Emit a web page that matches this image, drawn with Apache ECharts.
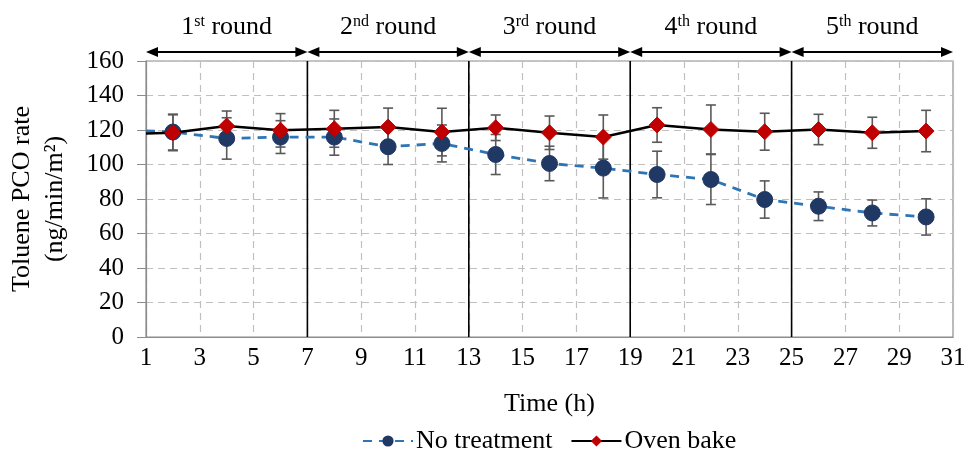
<!DOCTYPE html>
<html>
<head>
<meta charset="utf-8">
<script src="https://cdn.jsdelivr.net/npm/echarts@6/dist/echarts.min.js"></script>
<style>html,body{margin:0;padding:0;background:#fff}#c{width:966px;height:451px}</style>
</head>
<body>
<div id="c"></div>
<script>
// ---- data ----
const hours = [2, 4, 6, 8, 10, 12, 14, 16, 18, 20, 22, 24, 26, 28, 30];
const noTreatment    = [118.8, 115.1, 115.9, 115.9, 110.3, 112.2, 105.8, 100.6, 97.9, 94.2, 91.3, 79.7, 75.8, 71.9, 69.6];
const noTreatmentErr = [10.4, 12.0, 9.5, 10.5, 10.3, 10.7, 11.6, 10.0, 17.3, 13.5, 14.5, 10.8, 8.3, 7.5, 10.5];
const ovenBake       = [118.4, 122.3, 119.8, 120.7, 121.7, 118.8, 121.3, 118.4, 115.9, 122.9, 120.3, 119.0, 120.3, 118.4, 119.4];
const ovenBakeErr    = [10.4, 8.7, 9.7, 10.7, 11.0, 13.8, 7.4, 9.7, 12.8, 10.0, 14.2, 10.7, 8.8, 9.0, 12.0];
const startHour = 1;
const noTreatmentStart = 119.5;
const ovenBakeStart = 118.0;
const roundBounds = [1, 7, 13, 19, 25, 31];
const roundOrd = ['1', '2', '3', '4', '5'];
const roundSup = ['st', 'nd', 'rd', 'th', 'th'];
const xTicks = { min: 1, max: 31, interval: 2 };
const yTicks = { min: 0, max: 160, interval: 20 };

const FONT = 'Liberation Serif';

function lineData(start, vals) {
  const d = [{ value: [startHour, start], symbol: 'none' }];
  hours.forEach((h, i) => d.push([h, vals[i]]));
  return d;
}
function errData(vals, errs) {
  return hours.map((h, i) => [h, vals[i] - errs[i], vals[i] + errs[i]]);
}
const roundData = roundOrd.map((o, i) => [roundBounds[i], roundBounds[i + 1], i]);

function renderErr(params, api) {
  const x = api.value(0);
  const lo = api.coord([x, api.value(1)]);
  const hi = api.coord([x, api.value(2)]);
  const w = 5;
  const st = { stroke: '#595959', lineWidth: 1.6 };
  return {
    type: 'group',
    children: [
      { type: 'line', shape: { x1: lo[0], y1: lo[1], x2: hi[0], y2: hi[1] }, style: st },
      { type: 'line', shape: { x1: lo[0] - w, y1: lo[1], x2: lo[0] + w, y2: lo[1] }, style: st },
      { type: 'line', shape: { x1: hi[0] - w, y1: hi[1], x2: hi[0] + w, y2: hi[1] }, style: st }
    ]
  };
}

function renderRound(params, api) {
  const a = api.coord([api.value(0), yTicks.max]);
  const b = api.coord([api.value(1), yTicks.max]);
  const idx = api.value(2);
  const y = a[1] - 9;
  const hl = 12, hw = 5;
  return {
    type: 'group',
    children: [
      { type: 'line', shape: { x1: a[0] + 4, y1: y, x2: b[0] - 4, y2: y }, style: { stroke: '#000', lineWidth: 2 } },
      { type: 'polygon', shape: { points: [[a[0], y], [a[0] + hl, y - hw], [a[0] + hl, y + hw]] }, style: { fill: '#000' } },
      { type: 'polygon', shape: { points: [[b[0], y], [b[0] - hl, y - hw], [b[0] - hl, y + hw]] }, style: { fill: '#000' } },
      {
        type: 'text',
        x: (a[0] + b[0]) / 2,
        y: y - 25,
        style: {
          text: '{n|' + roundOrd[idx] + '}{s|' + roundSup[idx] + '}{n| round}',
          align: 'center',
          verticalAlign: 'middle',
          rich: {
            n: { fontFamily: FONT, fontSize: 26, fill: '#000', lineHeight: 30 },
            s: { fontFamily: FONT, fontSize: 16, fill: '#000', padding: [0, 0, 10, 0], lineHeight: 30 }
          }
        }
      }
    ]
  };
}

const chart = echarts.init(document.getElementById('c'), null, { renderer: 'canvas' });
chart.setOption({
  animation: false,
  backgroundColor: '#fff',
  textStyle: { fontFamily: FONT },
  grid: {
    left: 146, right: 13, top: 61, bottom: 114,
    containLabel: false, outerBoundsMode: 'none',
    show: true, borderColor: '#8c8c8c', borderWidth: 1.2
  },
  legend: {
    top: 423,
    left: 357,
    itemWidth: 50,
    itemHeight: 14,
    itemGap: 18,
    textStyle: { fontFamily: FONT, fontSize: 26, color: '#000', padding: [0, 0, 0, -2] },
    data: ['No treatment', 'Oven bake']
  },
  xAxis: {
    type: 'value',
    min: xTicks.min, max: xTicks.max, interval: xTicks.interval,
    name: 'Time (h)', nameLocation: 'middle', nameGap: 54,
    nameTextStyle: { fontFamily: FONT, fontSize: 26, color: '#000' },
    axisLine: { lineStyle: { color: '#8c8c8c', width: 1.2 } },
    axisTick: { show: false },
    axisLabel: { fontFamily: FONT, fontSize: 25, color: '#000', margin: 9 },
    splitLine: { show: true, lineStyle: { color: '#c0c0c0', type: [7, 5], width: 1.2 } }
  },
  yAxis: {
    type: 'value',
    min: yTicks.min, max: yTicks.max, interval: yTicks.interval,
    name: 'Toluene PCO rate\n(ng/min/m²)', nameLocation: 'middle', nameGap: 74, nameRotate: 90,
    nameTextStyle: { fontFamily: FONT, fontSize: 26, color: '#000', lineHeight: 33 },
    axisLine: { show: true, lineStyle: { color: '#8c8c8c', width: 1.2 } },
    axisTick: { show: true, length: 9, lineStyle: { color: '#8c8c8c' } },
    axisLabel: { fontFamily: FONT, fontSize: 25, color: '#000', margin: 22 },
    splitLine: { show: true, lineStyle: { color: '#c0c0c0', type: [7, 5], width: 1.2 } }
  },
  series: [
    {
      type: 'custom', name: 'roundSep', silent: true, z: 1,
      data: roundBounds.slice(1, -1).map(v => [v]),
      encode: { x: 0 },
      renderItem: (p, api) => {
        const a = api.coord([api.value(0), yTicks.min]);
        const b = api.coord([api.value(0), yTicks.max]);
        return { type: 'line', shape: { x1: a[0], y1: a[1], x2: b[0], y2: b[1] }, style: { stroke: '#000', lineWidth: 1.6 } };
      }
    },
    {
      type: 'custom', name: 'rounds', silent: true, clip: false, z: 5,
      data: roundData, encode: { x: [0, 1] },
      renderItem: renderRound
    },
    {
      type: 'custom', name: 'errNo', silent: true, z: 2,
      data: errData(noTreatment, noTreatmentErr), encode: { x: 0, y: [1, 2] },
      renderItem: renderErr
    },
    {
      type: 'custom', name: 'errOven', silent: true, z: 2,
      data: errData(ovenBake, ovenBakeErr), encode: { x: 0, y: [1, 2] },
      renderItem: renderErr
    },
    {
      name: 'No treatment', type: 'line', z: 3,
      data: lineData(noTreatmentStart, noTreatment),
      symbol: 'circle', symbolSize: 16,
      itemStyle: { color: '#203864', borderColor: '#203864' },
      lineStyle: { color: '#2e75b6', width: 2.8, type: [9, 7] }
    },
    {
      name: 'Oven bake', type: 'line', z: 4,
      data: lineData(ovenBakeStart, ovenBake),
      symbol: 'diamond', symbolSize: 16,
      itemStyle: { color: '#c00000', borderColor: '#c00000' },
      lineStyle: { color: '#000', width: 2.5 }
    }
  ]
});
</script>
</body>
</html>
